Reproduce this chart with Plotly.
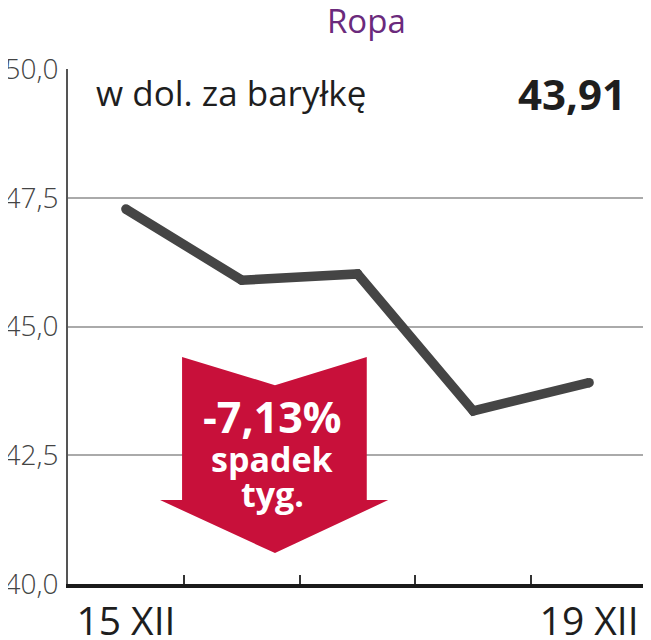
import plotly.graph_objects as go

# dane
days = ["15 XII", "16 XII", "17 XII", "18 XII", "19 XII"]
prices = [47.28, 45.90, 46.02, 43.36, 43.91]
day_labels = ["15 XII", "", "", "", "19 XII"]
y_ticks = [40.0, 42.5, 45.0, 47.5, 50.0]

TITLE = "Ropa"
UNIT = "w dol. za baryłkę"
LAST = "43,91"
CHANGE = "-7,13%"

FONT = "Open Sans"
LINE_COLOR = "#454545"
RED = "#c8103a"
PURPLE = "#6b2a7c"

fig = go.Figure()
fig.add_trace(go.Scatter(
    x=days, y=prices,
    mode="lines+markers",
    line=dict(color=LINE_COLOR, width=9.5),
    marker=dict(color=LINE_COLOR, size=9.5),
    hoverinfo="skip",
    showlegend=False,
))

# strzałka spadku (współrzędne paper)
arrow = [
    (0.197, 0.441), (0.3575, 0.386), (0.516, 0.441), (0.516, 0.163),
    (0.553, 0.163), (0.3575, 0.060), (0.159, 0.163), (0.197, 0.163),
]
path = "M " + " L ".join(f"{x},{y}" for x, y in arrow) + " Z"
fig.add_shape(type="path", path=path, xref="paper", yref="paper",
              fillcolor=RED, line=dict(width=0), layer="above")

ann = [
    dict(text=TITLE, x=0.515, y=1.095, font=dict(size=33, color=PURPLE)),
    dict(text=UNIT, x=0.045, y=0.955, xanchor="left",
         font=dict(size=35, color="#1e1e1e")),
    dict(text=f"<b>{LAST}</b>", x=0.968, y=0.953, xanchor="right",
         font=dict(size=42, color="#1e1e1e")),
    dict(text=f"<b>{CHANGE}</b>", x=0.353, y=0.325,
         font=dict(size=43, color="white")),
    dict(text="<b>spadek</b>", x=0.353, y=0.243,
         font=dict(size=34, color="white")),
    dict(text="<b>tyg.</b>", x=0.353, y=0.174,
         font=dict(size=34, color="white")),
]
for a in ann:
    a.setdefault("xanchor", "center")
    fig.add_annotation(xref="paper", yref="paper", showarrow=False,
                       yanchor="middle", **a)

# strona ma 8 px marginesu body, więc figura jest o tyle mniejsza
fig.update_layout(
    width=643, height=632,
    margin=dict(l=60, r=4, t=61, b=56),
    paper_bgcolor="white",
    plot_bgcolor="white",
    separators=", ",
    font=dict(family=FONT, color="#1e1e1e"),
    xaxis=dict(
        type="category",
        range=[-0.5, 4.5],
        tickmode="array", tickvals=days, ticktext=day_labels,
        tickson="boundaries",
        ticks="inside", ticklen=9, tickwidth=1.5, tickcolor="#333",
        showline=True, linecolor="#1a1a1a", linewidth=3.5,
        showgrid=False, zeroline=False, automargin=False,
        tickfont=dict(size=39, color="#1e1e1e"),
    ),
    yaxis=dict(
        range=[40, 50],
        tickmode="array", tickvals=y_ticks, tickformat=".1f",
        ticks="", ticklabelstandoff=2,
        showline=True, linecolor="#555", linewidth=2,
        showgrid=True, gridcolor="#aaaaaa", gridwidth=1.5,
        zeroline=False, automargin=False,
        tickfont=dict(size=28, color="#444", weight=300),
    ),
)

fig.write_html("out.html")
